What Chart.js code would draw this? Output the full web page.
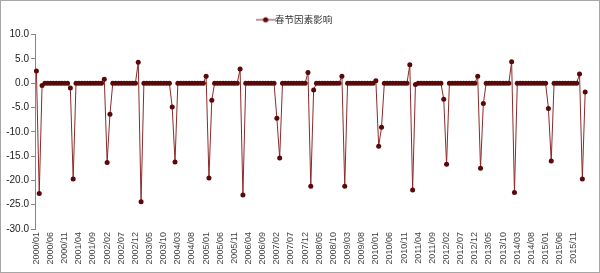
<!DOCTYPE html>
<html>
<head>
<meta charset="utf-8">
<script src="https://cdn.jsdelivr.net/npm/chart.js@4"></script>
<style>
  html, body { margin: 0; padding: 0; background: #fff; }
  .frame { width: 598px; height: 271px; border: 1px solid #a6a6a6; position: relative; }
  canvas { display: block; }
</style>
</head>
<body>
<div class="frame"><canvas id="chart" width="598" height="271"></canvas></div>
<script>
// Seasonal (Spring Festival) effect, monthly from 2000/01 to 2016/03
const years = [2000, 2001, 2002, 2003, 2004, 2005, 2006, 2007, 2008,
  2009, 2010, 2011, 2012, 2013, 2014, 2015, 2016];
// Jan, Feb, Mar of each year; all other months read as 0
const janValues = [2.5, -1.0, 0.8, 4.3, -4.9, 1.4, 2.9, 0.0, 2.2, 1.4, 0.5, 3.8, -3.3, 1.4, 4.4, 0.0, 1.9];
const febValues = [-22.7, -19.7, -16.3, -24.4, -16.2, -19.5, -23.0, -7.2, -21.2, -21.2, -13.0, -22.0, -16.7, -17.5, -22.5, -5.2, -19.7];
const marValues = [-0.5, 0.0, -6.4, 0.0, 0.0, -3.5, 0.0, -15.4, -1.4, 0.0, -9.1, -0.3, 0.0, -4.2, 0.0, -16.0, -1.8];
const yTicks = [10, 5, 0, -5, -10, -15, -20, -25, -30];
const seriesName = '春节因素影响';

const labels = [];
const values = [];
years.forEach((y, k) => {
  const last = y === 2016 ? 3 : 12;
  for (let m = 1; m <= last; m++) {
    labels.push(y + '/' + String(m).padStart(2, '0'));
    if (m === 1) values.push(janValues[k]);
    else if (m === 2) values.push(febValues[k]);
    else if (m === 3) values.push(marValues[k]);
    else values.push(0);
  }
});

// legend swatch: short line with a dot
const swatch = document.createElement('canvas');
swatch.width = 20; swatch.height = 8;
const sc = swatch.getContext('2d');
sc.strokeStyle = '#8b2a2a'; sc.lineWidth = 1;
sc.beginPath(); sc.moveTo(0, 4); sc.lineTo(20, 4); sc.stroke();
sc.fillStyle = '#5a0808';
sc.beginPath(); sc.arc(10, 4, 2.6, 0, Math.PI * 2); sc.fill();

new Chart(document.getElementById('chart'), {
  type: 'line',
  data: {
    labels: labels,
    datasets: [{
      label: seriesName,
      data: values,
      borderColor: '#8b2a2a',
      borderWidth: 1,
      backgroundColor: '#5a0808',
      pointBackgroundColor: '#5a0808',
      pointBorderColor: '#5a0808',
      pointRadius: 2.5,
      pointBorderWidth: 0,
      tension: 0,
    }],
  },
  options: {
    responsive: false,
    animation: false,
    layout: { padding: { top: 4, right: 7, left: 0, bottom: 3 } },
    plugins: {
      tooltip: { enabled: false },
      legend: {
        position: 'top',
        labels: {
          usePointStyle: true,
          font: { family: '"Noto Sans CJK SC", sans-serif', size: 9.5 },
          color: '#333',
          padding: 10,
          generateLabels: (chart) => [{
            text: seriesName,
            pointStyle: swatch,
            fontColor: '#333',
            datasetIndex: 0,
          }],
        },
      },
    },
    scales: {
      x: {
        offset: true,
        grid: { display: false, tickLength: 0 },
        border: { display: false },
        afterFit: (s) => { s.height = 40; },
        ticks: {
          autoSkip: false,
          maxRotation: 90,
          minRotation: 90,
          padding: 3,
          color: '#444',
          font: { family: '"Liberation Sans", Arial, sans-serif', size: 9 },
          callback: (v, i) => (i % 5 === 0 ? labels[i] : ''),
        },
      },
      y: {
        min: -30,
        max: 10,
        afterFit: (s) => { s.width = 34; },
        afterBuildTicks: (s) => { s.ticks = yTicks.map(v => ({ value: v })); },
        grid: { drawOnChartArea: false, tickLength: 4, color: '#868686' },
        border: { display: true, color: '#868686' },
        ticks: {
          padding: 2,
          color: '#222',
          font: { family: '"Liberation Sans", Arial, sans-serif', size: 10 },
          callback: (v) => v.toFixed(1),
        },
      },
    },
  },
});
</script>
</body>
</html>
